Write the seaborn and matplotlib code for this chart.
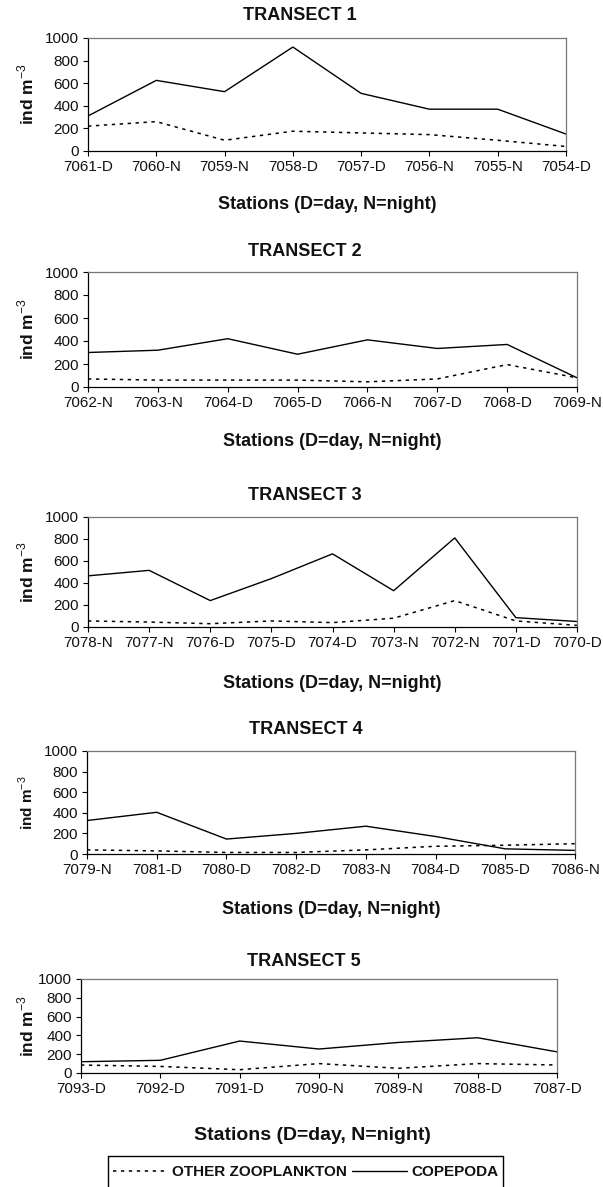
import matplotlib
matplotlib.use("Agg")
import matplotlib.pyplot as plt
from matplotlib.lines import Line2D
import seaborn as sns

sns.set_theme(style="ticks")
plt.rcParams['font.family'] = ['Liberation Sans', 'DejaVu Sans']
plt.rcParams['mathtext.fontset'] = 'custom'
plt.rcParams['mathtext.rm'] = 'Liberation Sans'
plt.rcParams['mathtext.bf'] = 'Liberation Sans:bold'

# ---- abundance data (ind m^-3) per transect ----
t1_stations = ["7061-D", "7060-N", "7059-N", "7058-D", "7057-D", "7056-N", "7055-N", "7054-D"]
t1_copepoda = [310, 625, 525, 920, 510, 370, 370, 150]
t1_other = [220, 260, 95, 175, 160, 145, 95, 40]

t2_stations = ["7062-N", "7063-N", "7064-D", "7065-D", "7066-N", "7067-D", "7068-D", "7069-N"]
t2_copepoda = [300, 320, 420, 285, 410, 335, 370, 80]
t2_other = [70, 60, 60, 60, 45, 70, 195, 80]

t3_stations = ["7078-N", "7077-N", "7076-D", "7075-D", "7074-D", "7073-N", "7072-N", "7071-D", "7070-D"]
t3_copepoda = [465, 515, 240, 440, 665, 330, 810, 85, 50]
t3_other = [55, 45, 30, 55, 40, 80, 240, 55, 15]

t4_stations = ["7079-N", "7081-D", "7080-D", "7082-D", "7083-N", "7084-D", "7085-D", "7086-N"]
t4_copepoda = [325, 405, 145, 200, 270, 170, 50, 35]
t4_other = [40, 30, 15, 15, 40, 75, 85, 100]

t5_stations = ["7093-D", "7092-D", "7091-D", "7090-N", "7089-N", "7088-D", "7087-D"]
t5_copepoda = [120, 135, 340, 255, 325, 375, 225]
t5_other = [85, 70, 35, 100, 50, 100, 85]

titles = ["TRANSECT 1", "TRANSECT 2", "TRANSECT 3", "TRANSECT 4", "TRANSECT 5"]
y_ticks = [0, 200, 400, 600, 800, 1000]
x_label = "Stations (D=day, N=night)"
y_label = r"ind m$^{-3}$"
series_names = ["OTHER ZOOPLANKTON", "COPEPODA"]

transects = [
    (t1_stations, t1_copepoda, t1_other),
    (t2_stations, t2_copepoda, t2_other),
    (t3_stations, t3_copepoda, t3_other),
    (t4_stations, t4_copepoda, t4_other),
    (t5_stations, t5_copepoda, t5_other),
]

# ---- layout in pixels: (left, right, top, bottom) of each plot area ----
W, H = 603, 1187
boxes = [
    (88, 566, 38, 151),
    (88, 577, 272, 387),
    (88, 577, 517, 627),
    (87, 575, 751, 854),
    (81, 557, 979, 1073),
]
title_pos = [(300, 16), (305, 252), (305, 495), (306, 729), (304, 962)]
xlabel_pos = [(327, 205), (332, 441), (332, 683), (331, 910), (312, 1135)]
xlabel_size = [13, 13, 13, 13, 14]
ylabel_size = [12.5, 12.5, 12.5, 11, 12.5]

fig = plt.figure(figsize=(W / 100, H / 100), dpi=100)
fig.patch.set_facecolor("white")

dotted = (0, (2.2, 3.0))

for i, ((stations, cop, oth), (l, r, t, b)) in enumerate(zip(transects, boxes)):
    ax = fig.add_axes([l / W, 1 - b / H, (r - l) / W, (b - t) / H])
    sns.lineplot(x=stations, y=oth, ax=ax, color="black", linewidth=1.1,
                 linestyle=dotted, sort=False, label=series_names[0], legend=False)
    sns.lineplot(x=stations, y=cop, ax=ax, color="black", linewidth=1.0,
                 sort=False, label=series_names[1], legend=False)
    ax.set_xlim(0, len(stations) - 1)
    ax.set_ylim(0, 1000)
    ax.set_yticks(y_ticks)
    ax.set_yticklabels([str(v) for v in y_ticks])
    ax.set_xlabel("")
    ax.set_ylabel("")
    ax.tick_params(axis="both", direction="out", length=3.5, width=0.8,
                   color="black", labelsize=11, pad=3, labelcolor="#111111")
    for side in ["left", "bottom"]:
        ax.spines[side].set_color("black")
        ax.spines[side].set_linewidth(0.9)
    for side in ["top", "right"]:
        ax.spines[side].set_visible(True)
        ax.spines[side].set_color("#777777")
        ax.spines[side].set_linewidth(0.9)
    ax.set_facecolor("white")

    tx, ty = title_pos[i]
    fig.text(tx / W, 1 - ty / H, titles[i], ha="center", va="center",
             fontsize=13, fontweight="bold", color="#111111")
    xx, xy = xlabel_pos[i]
    fig.text(xx / W, 1 - xy / H, x_label, ha="center", va="center",
             fontsize=xlabel_size[i], fontweight="bold", color="#111111")
    fig.text(26 / W, 1 - ((t + b) / 2) / H, y_label, ha="center", va="center",
             rotation=90, fontsize=ylabel_size[i], fontweight="bold", color="#111111")

# shared legend in an open-bottomed box along the lower edge
handles, labels = ax.get_legend_handles_labels()
leg = fig.legend(handles, labels, loc="center left", ncol=2, mode="expand",
                 bbox_to_anchor=(108 / W, 1 - 1172 / H, 395 / W, 0),
                 borderaxespad=0, frameon=False, handlelength=3.6,
                 handletextpad=0.3, columnspacing=0.0, borderpad=0.3,
                 prop={"weight": "bold", "size": 11})
for txt in leg.get_texts():
    txt.set_color("#111111")

bx0, bx1, by0 = 108 / W, 503 / W, 1 - 1156 / H
for xs, ys in [((bx0, bx1), (by0, by0)), ((bx0, bx0), (by0, -0.01)), ((bx1, bx1), (by0, -0.01))]:
    fig.add_artist(Line2D(xs, ys, transform=fig.transFigure, color="black", linewidth=1.0))

fig.savefig("out.png", dpi=100, facecolor="white")
